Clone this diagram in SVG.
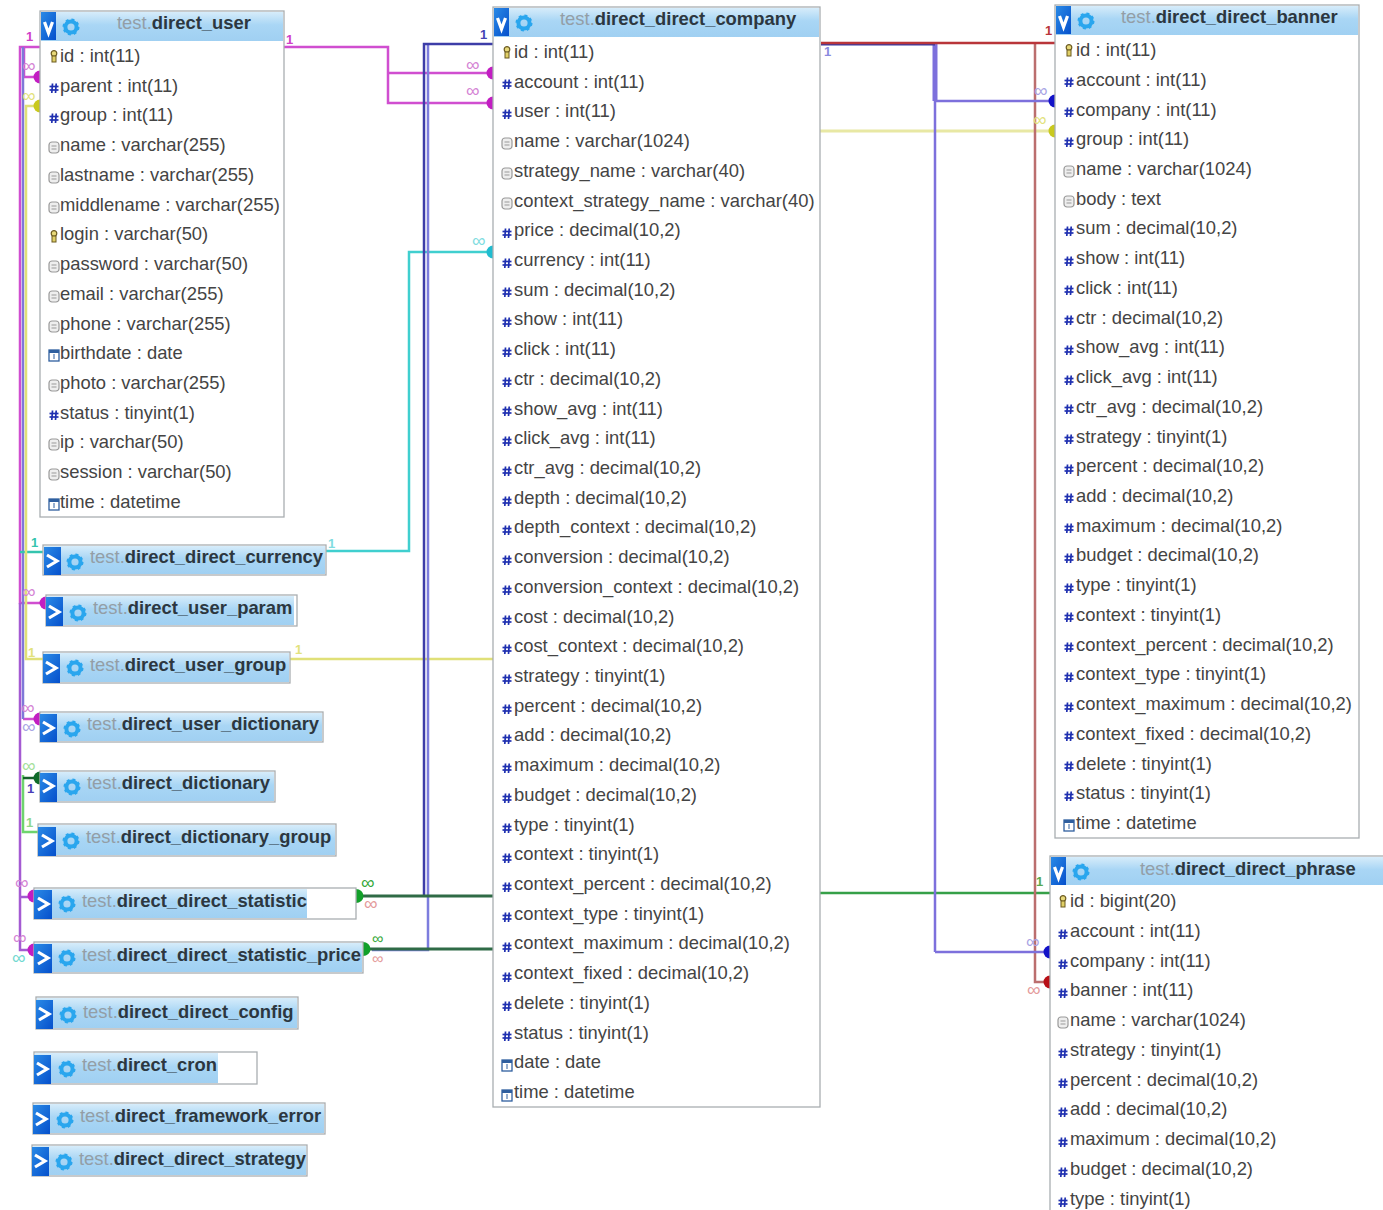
<svg xmlns="http://www.w3.org/2000/svg" width="1383" height="1210" viewBox="0 0 1383 1210">
<style>
text{font-family:"Liberation Sans",Arial,sans-serif}
.r{font-size:18.4px;fill:#444}
.t{font-size:18.4px;font-weight:bold;fill:#2c3740}
.t .p{font-weight:normal;fill:#939ea6}
.box{fill:#fff;stroke:#a9aeb1;stroke-width:1.300}
.hd{fill:url(#hg)}
.bt{fill:url(#bg)}
.c{fill:none;stroke-width:2.500}
.w{stroke-width:3}
.x{stroke-width:5}
.ch{fill:none;stroke:#fff;stroke-width:3.200}
.inf{font-size:19px}
.sm{font-size:16px}
.one{font-family:"Liberation Mono",monospace;font-size:13px;font-weight:bold}
</style>
<defs>
<linearGradient id="hg" x1="0" y1="0" x2="0" y2="1"><stop offset="0" stop-color="#d6ecfa"/><stop offset=".45" stop-color="#a9d6f5"/><stop offset="1" stop-color="#a0d0f2"/></linearGradient>
<linearGradient id="bg" x1="0" y1="0" x2="1" y2="1"><stop offset="0" stop-color="#2a8ae6"/><stop offset="1" stop-color="#0550cc"/></linearGradient>
<g id="gear"><circle r="5.600" fill="none" stroke="#2aa6ee" stroke-width="4"/><circle r="7.600" fill="none" stroke="#2aa6ee" stroke-width="1.800" stroke-dasharray="3 3"/></g>
<g id="k"><circle cy="-2.500" r="2.800" fill="#e8d97a" stroke="#6b5a20" stroke-width="1.200"/><rect x="-2" y="0" width="4" height="6" fill="#e0cf66" stroke="#6b5a20" stroke-width="1"/></g>
<g id="h" stroke="#1f30b0" stroke-width="1.700"><line x1="-1.500" y1="-4.500" x2="-2.200" y2="5"/><line x1="2.200" y1="-4.500" x2="1.500" y2="5"/><line x1="-4.500" y1="-1.500" x2="4.500" y2="-1.500"/><line x1="-4.500" y1="2" x2="4.500" y2="2"/></g>
<g id="s"><rect x="-5" y="-5" width="10" height="11" rx="3" fill="#eee" stroke="#9a9a9a" stroke-width="1.200"/><line x1="-2.500" y1="-1" x2="2.500" y2="-1" stroke="#999"/><line x1="-2.500" y1="2" x2="2.500" y2="2" stroke="#999"/></g>
<g id="d"><rect x="-5" y="-5" width="10" height="11" fill="#fff" stroke="#2f5f9f" stroke-width="1.300"/><rect x="-5" y="-5" width="10" height="3" fill="#2f5f9f"/><line x1="0" y1="-1" x2="0" y2="4" stroke="#2f5f9f"/></g>
<path id="dl" d="M0-6.500A6.500 6.500 0 0 0 0 6.500Z"/>
<path id="dr" d="M0-7A7.500 7 0 0 1 0 7Z"/>
</defs>
<rect width="1383" height="1210" fill="#fff"/>
<g id="connectors">
<g class="c" stroke="#d04ed0">
<path d="M284 47H388V103H487M388 73H487"/>
<path d="M40 47H20V603H40"/>
<path d="M24 47V77H36"/>
<path d="M23 719H36"/>
</g>
<path class="c" stroke="#a45ad2" d="M20 603V950H30M20 897H30"/>
<path class="c" stroke="#7f78d8" d="M23 47V719"/>
<path class="c" stroke="#40cfcf" d="M326 551H409V252H487"/>
<path class="c" stroke="#35c4ae" d="M43 552H20"/>
<path class="c" stroke="#e0e078" d="M290 659H493M43 659H26V106H36"/>
<path class="c" stroke="#6ed46e" d="M23 775V832H38"/>
<path class="c" stroke="#16602c" d="M23 778H36"/>
<path class="c" stroke="#7d7dde" d="M428 44V950H372"/>
<path class="c" stroke="#3d3da8" d="M493 44H424V896"/>
<path class="c w" stroke="#2f6b46" d="M362 896H493M369 949H493"/>
<path class="c" stroke="#36a048" d="M820 893H1050"/>
<path class="c w" stroke="#e8e8a4" d="M820 131H1050"/>
<path class="c" stroke="#bb6e6e" d="M1035 43V982H1046"/>
<path class="c" stroke="#7d70dc" d="M935 101H1050M935 952H1046M935 101V952"/>
<path class="c x" stroke="#7d70dc" d="M935 44V101"/>
<path class="c w" stroke="#3a3aa0" d="M821 44H935"/>
<path class="c" stroke="#b9353a" d="M821 43H1055"/>
<g fill="#c21dc2"><use href="#dl" x="40" y="77"/><use href="#dl" x="493" y="73"/><use href="#dl" x="493" y="103"/><use href="#dl" x="46" y="603"/><use href="#dl" x="40" y="719"/><use href="#dl" x="34" y="896"/><use href="#dl" x="34" y="950"/></g>
<g fill="#c9c91e"><use href="#dl" x="40" y="106"/><use href="#dl" x="1055" y="131"/></g>
<use href="#dl" x="493" y="252" fill="#20bcd0"/>
<use href="#dl" x="40" y="778" fill="#0f6b2a"/>
<g fill="#1212c8"><use href="#dl" x="1055" y="101"/><use href="#dl" x="1050" y="952"/></g>
<use href="#dl" x="1050" y="982" fill="#b80f16"/>
<g fill="#12a02a"><use href="#dr" x="356" y="896"/><use href="#dr" x="363" y="949"/></g>
<g class="inf">
<g fill="#d483d4"><text x="466" y="71">∞</text><text x="466" y="97">∞</text><text x="22" y="72">∞</text><text x="22" y="598">∞</text><text x="21" y="714">∞</text><text x="15" y="889">∞</text><text x="13" y="944">∞</text></g>
<g fill="#e2e27c"><text x="22" y="102">∞</text><text x="1033" y="126">∞</text></g>
<text x="472" y="247" fill="#80dce0">∞</text>
<text x="22" y="733" fill="#a9a4e4">∞</text>
<text x="22" y="772" fill="#a4e09a">∞</text>
<text x="12" y="964" fill="#70d8d0">∞</text>
<g fill="#35a83a"><text x="361" y="889">∞</text><text class="sm" x="372" y="944">∞</text></g>
<g fill="#e49a9a"><text x="364" y="910">∞</text><text class="sm" x="372" y="964">∞</text><text x="1027" y="996">∞</text></g>
<text x="1034" y="97" fill="#a9a4e4">∞</text>
<text x="1026" y="948" fill="#a9a4e4">∞</text>
</g>
<g class="one">
<text x="26" y="41" fill="#d040c8">1</text><text x="286" y="44" fill="#d040c8">1</text>
<text x="480" y="39" fill="#4545b5">1</text>
<text x="31" y="547" fill="#35c4ae">1</text><text x="328" y="548" fill="#80dce0">1</text>
<text x="28" y="657" fill="#e2e27c">1</text><text x="295" y="654" fill="#e2e27c">1</text>
<text x="27" y="793" fill="#4a3db8">1</text><text x="26" y="827" fill="#8fd88a">1</text>
<text x="824" y="56" fill="#8a8ae0">1</text><text x="1045" y="35" fill="#b9353a">1</text><text x="1036" y="886" fill="#5aa84f">1</text>
</g>
</g>
<g id="direct_user">
<rect class="box" x="40" y="11" width="244" height="506"/><rect class="hd" x="41" y="12" width="242" height="29"/><rect class="bt" x="41" y="12" width="15" height="28"/><polyline class="ch" points="44.500,22 48.500,33 52.500,22"/><use href="#gear" x="71" y="27"/>
<text class="t" x="117" y="29"><tspan class="p">test.</tspan>direct_user</text>
<use href="#k" x="54" y="56"/><text class="r" x="60" y="62">id : int(11)</text>
<use href="#h" x="54" y="88"/><text class="r" x="60" y="92">parent : int(11)</text>
<use href="#h" x="54" y="118"/><text class="r" x="60" y="121">group : int(11)</text>
<use href="#s" x="54" y="147"/><text class="r" x="60" y="151">name : varchar(255)</text>
<use href="#s" x="54" y="177"/><text class="r" x="60" y="181">lastname : varchar(255)</text>
<use href="#s" x="54" y="207"/><text class="r" x="60" y="211">middlename : varchar(255)</text>
<use href="#k" x="54" y="236"/><text class="r" x="60" y="240">login : varchar(50)</text>
<use href="#s" x="54" y="266"/><text class="r" x="60" y="270">password : varchar(50)</text>
<use href="#s" x="54" y="296"/><text class="r" x="60" y="300">email : varchar(255)</text>
<use href="#s" x="54" y="326"/><text class="r" x="60" y="330">phone : varchar(255)</text>
<use href="#d" x="54" y="355"/><text class="r" x="60" y="359">birthdate : date</text>
<use href="#s" x="54" y="385"/><text class="r" x="60" y="389">photo : varchar(255)</text>
<use href="#h" x="54" y="415"/><text class="r" x="60" y="419">status : tinyint(1)</text>
<use href="#s" x="54" y="444"/><text class="r" x="60" y="448">ip : varchar(50)</text>
<use href="#s" x="54" y="474"/><text class="r" x="60" y="478">session : varchar(50)</text>
<use href="#d" x="54" y="504"/><text class="r" x="60" y="508">time : datetime</text>
</g>
<g id="direct_direct_company">
<rect class="box" x="493" y="7" width="327" height="1100"/><rect class="hd" x="494" y="8" width="325" height="29"/><rect class="bt" x="494" y="8" width="15" height="28"/><polyline class="ch" points="497.500,18 501.500,29 505.500,18"/><use href="#gear" x="524" y="23"/>
<text class="t" x="560" y="25"><tspan class="p">test.</tspan>direct_direct_company</text>
<use href="#k" x="507" y="52"/><text class="r" x="514" y="58">id : int(11)</text>
<use href="#h" x="507" y="84"/><text class="r" x="514" y="88">account : int(11)</text>
<use href="#h" x="507" y="114"/><text class="r" x="514" y="117">user : int(11)</text>
<use href="#s" x="507" y="143"/><text class="r" x="514" y="147">name : varchar(1024)</text>
<use href="#s" x="507" y="173"/><text class="r" x="514" y="177">strategy_name : varchar(40)</text>
<use href="#s" x="507" y="203"/><text class="r" x="514" y="207">context_strategy_name : varchar(40)</text>
<use href="#h" x="507" y="233"/><text class="r" x="514" y="236">price : decimal(10,2)</text>
<use href="#h" x="507" y="263"/><text class="r" x="514" y="266">currency : int(11)</text>
<use href="#h" x="507" y="292"/><text class="r" x="514" y="296">sum : decimal(10,2)</text>
<use href="#h" x="507" y="322"/><text class="r" x="514" y="325">show : int(11)</text>
<use href="#h" x="507" y="352"/><text class="r" x="514" y="355">click : int(11)</text>
<use href="#h" x="507" y="382"/><text class="r" x="514" y="385">ctr : decimal(10,2)</text>
<use href="#h" x="507" y="411"/><text class="r" x="514" y="415">show_avg : int(11)</text>
<use href="#h" x="507" y="441"/><text class="r" x="514" y="444">click_avg : int(11)</text>
<use href="#h" x="507" y="471"/><text class="r" x="514" y="474">ctr_avg : decimal(10,2)</text>
<use href="#h" x="507" y="501"/><text class="r" x="514" y="504">depth : decimal(10,2)</text>
<use href="#h" x="507" y="530"/><text class="r" x="514" y="533">depth_context : decimal(10,2)</text>
<use href="#h" x="507" y="560"/><text class="r" x="514" y="563">conversion : decimal(10,2)</text>
<use href="#h" x="507" y="590"/><text class="r" x="514" y="593">conversion_context : decimal(10,2)</text>
<use href="#h" x="507" y="620"/><text class="r" x="514" y="623">cost : decimal(10,2)</text>
<use href="#h" x="507" y="649"/><text class="r" x="514" y="652">cost_context : decimal(10,2)</text>
<use href="#h" x="507" y="679"/><text class="r" x="514" y="682">strategy : tinyint(1)</text>
<use href="#h" x="507" y="709"/><text class="r" x="514" y="712">percent : decimal(10,2)</text>
<use href="#h" x="507" y="739"/><text class="r" x="514" y="741">add : decimal(10,2)</text>
<use href="#h" x="507" y="768"/><text class="r" x="514" y="771">maximum : decimal(10,2)</text>
<use href="#h" x="507" y="798"/><text class="r" x="514" y="801">budget : decimal(10,2)</text>
<use href="#h" x="507" y="828"/><text class="r" x="514" y="831">type : tinyint(1)</text>
<use href="#h" x="507" y="858"/><text class="r" x="514" y="860">context : tinyint(1)</text>
<use href="#h" x="507" y="887"/><text class="r" x="514" y="890">context_percent : decimal(10,2)</text>
<use href="#h" x="507" y="917"/><text class="r" x="514" y="920">context_type : tinyint(1)</text>
<use href="#h" x="507" y="947"/><text class="r" x="514" y="949">context_maximum : decimal(10,2)</text>
<use href="#h" x="507" y="977"/><text class="r" x="514" y="979">context_fixed : decimal(10,2)</text>
<use href="#h" x="507" y="1006"/><text class="r" x="514" y="1009">delete : tinyint(1)</text>
<use href="#h" x="507" y="1036"/><text class="r" x="514" y="1039">status : tinyint(1)</text>
<use href="#d" x="507" y="1065"/><text class="r" x="514" y="1068">date : date</text>
<use href="#d" x="507" y="1095"/><text class="r" x="514" y="1098">time : datetime</text>
</g>
<g id="direct_direct_banner">
<rect class="box" x="1055" y="5" width="304" height="833"/><rect class="hd" x="1056" y="6" width="302" height="29"/><rect class="bt" x="1056" y="6" width="15" height="28"/><polyline class="ch" points="1059.500,16 1063.500,27 1067.500,16"/><use href="#gear" x="1086" y="21"/>
<text class="t" x="1121" y="23"><tspan class="p">test.</tspan>direct_direct_banner</text>
<use href="#k" x="1069" y="50"/><text class="r" x="1076" y="56">id : int(11)</text>
<use href="#h" x="1069" y="82"/><text class="r" x="1076" y="86">account : int(11)</text>
<use href="#h" x="1069" y="112"/><text class="r" x="1076" y="116">company : int(11)</text>
<use href="#h" x="1069" y="142"/><text class="r" x="1076" y="145">group : int(11)</text>
<use href="#s" x="1069" y="171"/><text class="r" x="1076" y="175">name : varchar(1024)</text>
<use href="#s" x="1069" y="201"/><text class="r" x="1076" y="205">body : text</text>
<use href="#h" x="1069" y="231"/><text class="r" x="1076" y="234">sum : decimal(10,2)</text>
<use href="#h" x="1069" y="261"/><text class="r" x="1076" y="264">show : int(11)</text>
<use href="#h" x="1069" y="290"/><text class="r" x="1076" y="294">click : int(11)</text>
<use href="#h" x="1069" y="320"/><text class="r" x="1076" y="324">ctr : decimal(10,2)</text>
<use href="#h" x="1069" y="350"/><text class="r" x="1076" y="353">show_avg : int(11)</text>
<use href="#h" x="1069" y="380"/><text class="r" x="1076" y="383">click_avg : int(11)</text>
<use href="#h" x="1069" y="409"/><text class="r" x="1076" y="413">ctr_avg : decimal(10,2)</text>
<use href="#h" x="1069" y="439"/><text class="r" x="1076" y="443">strategy : tinyint(1)</text>
<use href="#h" x="1069" y="469"/><text class="r" x="1076" y="472">percent : decimal(10,2)</text>
<use href="#h" x="1069" y="498"/><text class="r" x="1076" y="502">add : decimal(10,2)</text>
<use href="#h" x="1069" y="528"/><text class="r" x="1076" y="532">maximum : decimal(10,2)</text>
<use href="#h" x="1069" y="558"/><text class="r" x="1076" y="561">budget : decimal(10,2)</text>
<use href="#h" x="1069" y="588"/><text class="r" x="1076" y="591">type : tinyint(1)</text>
<use href="#h" x="1069" y="617"/><text class="r" x="1076" y="621">context : tinyint(1)</text>
<use href="#h" x="1069" y="647"/><text class="r" x="1076" y="651">context_percent : decimal(10,2)</text>
<use href="#h" x="1069" y="677"/><text class="r" x="1076" y="680">context_type : tinyint(1)</text>
<use href="#h" x="1069" y="707"/><text class="r" x="1076" y="710">context_maximum : decimal(10,2)</text>
<use href="#h" x="1069" y="736"/><text class="r" x="1076" y="740">context_fixed : decimal(10,2)</text>
<use href="#h" x="1069" y="766"/><text class="r" x="1076" y="770">delete : tinyint(1)</text>
<use href="#h" x="1069" y="796"/><text class="r" x="1076" y="799">status : tinyint(1)</text>
<use href="#d" x="1069" y="825"/><text class="r" x="1076" y="829">time : datetime</text>
</g>
<g id="direct_direct_phrase">
<rect class="box" x="1050" y="856" width="340" height="360"/><rect class="hd" x="1051" y="857" width="332" height="28"/><rect class="bt" x="1051" y="857" width="15" height="28"/><polyline class="ch" points="1054.500,867 1058.500,878 1062.500,867"/><use href="#gear" x="1081" y="872"/>
<text class="t" x="1140" y="875"><tspan class="p">test.</tspan>direct_direct_phrase</text>
<use href="#k" x="1063" y="901"/><text class="r" x="1070" y="907">id : bigint(20)</text>
<use href="#h" x="1063" y="934"/><text class="r" x="1070" y="937">account : int(11)</text>
<use href="#h" x="1063" y="964"/><text class="r" x="1070" y="967">company : int(11)</text>
<use href="#h" x="1063" y="993"/><text class="r" x="1070" y="996">banner : int(11)</text>
<use href="#s" x="1063" y="1022"/><text class="r" x="1070" y="1026">name : varchar(1024)</text>
<use href="#h" x="1063" y="1053"/><text class="r" x="1070" y="1056">strategy : tinyint(1)</text>
<use href="#h" x="1063" y="1083"/><text class="r" x="1070" y="1086">percent : decimal(10,2)</text>
<use href="#h" x="1063" y="1112"/><text class="r" x="1070" y="1115">add : decimal(10,2)</text>
<use href="#h" x="1063" y="1142"/><text class="r" x="1070" y="1145">maximum : decimal(10,2)</text>
<use href="#h" x="1063" y="1172"/><text class="r" x="1070" y="1175">budget : decimal(10,2)</text>
<use href="#h" x="1063" y="1202"/><text class="r" x="1070" y="1205">type : tinyint(1)</text>
</g>
<g id="direct_direct_currency"><rect class="box" x="43" y="545" width="283" height="30"/><rect class="hd" x="44" y="546" width="281" height="28"/><rect class="bt" x="44" y="547" width="17" height="28"/><polyline class="ch" points="47,555 57,561 47,567"/><use href="#gear" x="75" y="562"/><text class="t" x="90" y="563"><tspan class="p">test.</tspan>direct_direct_currency</text></g>
<g id="direct_user_param"><rect class="box" x="46" y="595" width="251" height="31"/><rect class="hd" x="47" y="596" width="247" height="29"/><rect class="bt" x="46" y="597" width="17" height="29"/><polyline class="ch" points="49,606 59,612 49,618"/><use href="#gear" x="78" y="613"/><text class="t" x="93" y="614"><tspan class="p">test.</tspan>direct_user_param</text></g>
<g id="direct_user_group"><rect class="box" x="43" y="652" width="247" height="31"/><rect class="hd" x="44" y="653" width="245" height="29"/><rect class="bt" x="43" y="654" width="17" height="29"/><polyline class="ch" points="46,662 56,668 46,674"/><use href="#gear" x="75" y="668"/><text class="t" x="90" y="671"><tspan class="p">test.</tspan>direct_user_group</text></g>
<g id="direct_user_dictionary"><rect class="box" x="40" y="712" width="283" height="30"/><rect class="hd" x="41" y="713" width="281" height="28"/><rect class="bt" x="40" y="714" width="17" height="28"/><polyline class="ch" points="43,722 53,728 43,734"/><use href="#gear" x="72" y="729"/><text class="t" x="87" y="730"><tspan class="p">test.</tspan>direct_user_dictionary</text></g>
<g id="direct_dictionary"><rect class="box" x="40" y="771" width="235" height="31"/><rect class="hd" x="41" y="772" width="233" height="29"/><rect class="bt" x="40" y="773" width="17" height="29"/><polyline class="ch" points="43,780 53,786 43,792"/><use href="#gear" x="72" y="787"/><text class="t" x="87" y="789"><tspan class="p">test.</tspan>direct_dictionary</text></g>
<g id="direct_dictionary_group"><rect class="box" x="38" y="824" width="298" height="32"/><rect class="hd" x="39" y="825" width="296" height="30"/><rect class="bt" x="38" y="827" width="18" height="29"/><polyline class="ch" points="42,835 52,841 42,847"/><use href="#gear" x="71" y="841"/><text class="t" x="86" y="843"><tspan class="p">test.</tspan>direct_dictionary_group</text></g>
<g id="direct_direct_statistic"><rect class="box" x="34" y="888" width="322" height="31"/><rect class="hd" x="35" y="889" width="272" height="29"/><rect class="bt" x="34" y="890" width="18" height="29"/><polyline class="ch" points="38,898 48,904 38,910"/><use href="#gear" x="67" y="904"/><text class="t" x="82" y="907"><tspan class="p">test.</tspan>direct_direct_statistic</text></g>
<g id="direct_direct_statistic_price"><rect class="box" x="34" y="942" width="329" height="31"/><rect class="hd" x="35" y="943" width="327" height="29"/><rect class="bt" x="34" y="944" width="18" height="29"/><polyline class="ch" points="38,952 48,958 38,964"/><use href="#gear" x="67" y="958"/><text class="t" x="82" y="961"><tspan class="p">test.</tspan>direct_direct_statistic_price</text></g>
<g id="direct_direct_config"><rect class="box" x="36" y="997" width="262" height="32"/><rect class="hd" x="37" y="998" width="260" height="30"/><rect class="bt" x="36" y="1000" width="17" height="29"/><polyline class="ch" points="39,1008 49,1014 39,1020"/><use href="#gear" x="68" y="1015"/><text class="t" x="83" y="1018"><tspan class="p">test.</tspan>direct_direct_config</text></g>
<g id="direct_cron"><rect class="box" x="34" y="1052" width="223" height="32"/><rect class="hd" x="35" y="1053" width="183" height="30"/><rect class="bt" x="34" y="1055" width="17" height="29"/><polyline class="ch" points="37,1063 47,1069 37,1075"/><use href="#gear" x="67" y="1069"/><text class="t" x="82" y="1071"><tspan class="p">test.</tspan>direct_cron</text></g>
<g id="direct_framework_error"><rect class="box" x="33" y="1103" width="292" height="31"/><rect class="hd" x="34" y="1104" width="290" height="29"/><rect class="bt" x="33" y="1105" width="17" height="29"/><polyline class="ch" points="36,1113 46,1119 36,1125"/><use href="#gear" x="65" y="1120"/><text class="t" x="80" y="1122"><tspan class="p">test.</tspan>direct_framework_error</text></g>
<g id="direct_direct_strategy"><rect class="box" x="32" y="1145" width="275" height="31"/><rect class="hd" x="33" y="1146" width="273" height="29"/><rect class="bt" x="32" y="1147" width="17" height="29"/><polyline class="ch" points="35,1155 45,1161 35,1167"/><use href="#gear" x="64" y="1162"/><text class="t" x="79" y="1165"><tspan class="p">test.</tspan>direct_direct_strategy</text></g>
</svg>
